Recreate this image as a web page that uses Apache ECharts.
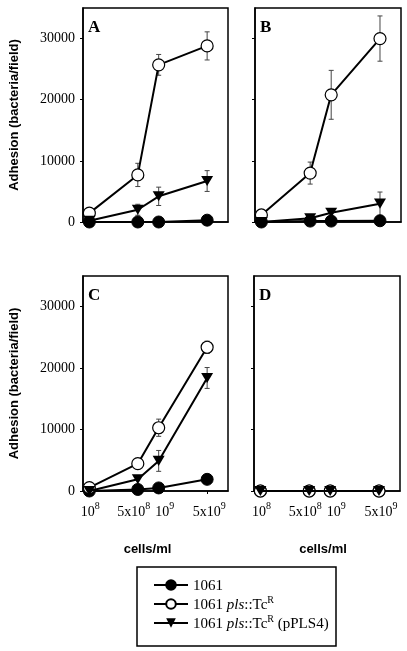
<!DOCTYPE html>
<html>
<head>
<meta charset="utf-8">
<script src="https://cdn.jsdelivr.net/npm/echarts@6/dist/echarts.min.js"></script>
<style>html,body{margin:0;padding:0;background:#fff;}#c{width:407px;height:651px;}</style>
</head>
<body>
<div id="c"></div>
<script>
// ---- data ----
const xVals = [1e8, 5e8, 1e9, 5e9];
const xTickBase = ['10', '5x10', '10', '5x10'];
const xTickExp = ['8', '8', '9', '9'];
const yTicks = [0, 10000, 20000, 30000];
const panelLetters = ['A', 'B', 'C', 'D'];
const seriesNames = ['1061', '1061 pls::TcR', '1061 pls::TcR (pPLS4)'];

const A_wt = [0, 0, 0, 300];
const A_pls = [1450, 7700, 25700, 28800];
const A_plsErr = [0, 1900, 1700, 2300];
const A_comp = [200, 2000, 4200, 6700];
const A_compErr = [0, 900, 1500, 1700];

const B_wt = [0, 150, 150, 200];
const B_pls = [1150, 8000, 20800, 30000];
const B_plsErr = [0, 1800, 4000, 3700];
const B_comp = [0, 600, 1500, 3000];
const B_compErr = [0, 0, 0, 1900];

const C_wt = [0, 250, 500, 1900];
const C_pls = [550, 4450, 10300, 23400];
const C_plsErr = [0, 0, 1400, 1000];
const C_comp = [0, 1900, 4900, 18400];
const C_compErr = [0, 0, 1700, 1700];

const D_wt = [0, 0, 0, 0];
const D_pls = [0, 0, 0, 0];
const D_plsErr = [0, 0, 0, 0];
const D_comp = [0, 0, 0, 0];
const D_compErr = [0, 0, 0, 0];

const panels = [
  {wt: A_wt, pls: A_pls, plsErr: A_plsErr, comp: A_comp, compErr: A_compErr},
  {wt: B_wt, pls: B_pls, plsErr: B_plsErr, comp: B_comp, compErr: B_compErr},
  {wt: C_wt, pls: C_pls, plsErr: C_plsErr, comp: C_comp, compErr: C_compErr},
  {wt: D_wt, pls: D_pls, plsErr: D_plsErr, comp: D_comp, compErr: D_compErr}
];

// ---- chart ----
const chart = echarts.init(document.getElementById('c'), null, {renderer: 'canvas'});
const serif = '"Liberation Serif", "Times New Roman", serif';
const sans = '"Liberation Sans", Arial, sans-serif';
const triPath = 'path://M0,0L12,0L6,11Z';
// horizontal nudge of each x tick label (px, + = right)
const labelNudge = [1, -4, 6, 2];

const grids = [
  {left: 83, top: 8, width: 145, height: 214},
  {left: 255, top: 8, width: 146, height: 214},
  {left: 83, top: 276, width: 145, height: 215},
  {left: 254, top: 276, width: 146, height: 215}
].map(g => Object.assign(g, {show: true, borderColor: '#000', borderWidth: 1.5, backgroundColor: 'transparent'}));

const richSup = {
  b: {fontFamily: serif, fontSize: 14, color: '#000', lineHeight: 18, verticalAlign: 'bottom'},
  s: {fontFamily: serif, fontSize: 10, color: '#000', lineHeight: 10, verticalAlign: 'top'}
};

const xAxes = grids.map((g, i) => ({
  type: 'log', logBase: 10, gridIndex: i, min: 8.1e7, max: 1e10,
  axisLine: {show: true, lineStyle: {color: '#000', width: 1.5}},
  axisTick: {show: true, customValues: xVals, length: 3, lineStyle: {color: '#000', width: 1}},
  splitLine: {show: false}, minorTick: {show: false},
  axisLabel: {
    show: i >= 2, customValues: xVals, margin: 10,
    formatter: function (v) {
      let k = xVals.findIndex(x => Math.abs(x - v) / x < 1e-6);
      if (k < 0) return '';
      const n = labelNudge[k];
      const txt = '{b|' + xTickBase[k] + '}{s|' + xTickExp[k] + '}';
      if (n > 0) return '{p' + (2 * n) + '|}' + txt;
      if (n < 0) return txt + '{p' + (-2 * n) + '|}';
      return txt;
    },
    rich: Object.assign({}, richSup, {
      p2: {width: 2}, p4: {width: 4}, p8: {width: 8}, p12: {width: 12}
    })
  },
  name: i >= 2 ? 'cells/ml' : '', nameLocation: 'middle', nameGap: 52,
  nameTextStyle: {fontFamily: sans, fontWeight: 'bold', fontSize: 13, color: '#000',
    padding: i === 2 ? [0, 16, 0, 0] : [0, 8, 0, 0]}
}));

const yAxes = grids.map((g, i) => ({
  type: 'value', gridIndex: i, min: 0, max: 35000,
  axisLine: {show: true, lineStyle: {color: '#000', width: 1.5}},
  axisTick: {show: true, customValues: yTicks, length: 3, lineStyle: {color: '#000', width: 1}},
  splitLine: {show: false},
  axisLabel: {show: i % 2 === 0, customValues: yTicks, fontFamily: serif, fontSize: 14, color: '#000', margin: 8,
    formatter: v => String(v)},
  name: i % 2 === 0 ? 'Adhesion (bacteria/field)' : '', nameLocation: 'middle', nameGap: 62,
  nameTextStyle: {fontFamily: sans, fontWeight: 'bold', fontSize: 13, color: '#000'}
}));

function pairs(arr) { return xVals.map((x, k) => [x, arr[k]]); }
function errData(vals, errs) {
  const out = [];
  xVals.forEach((x, k) => { if (errs[k] > 0) out.push([x, vals[k] - errs[k], vals[k] + errs[k]]); });
  return out;
}
function errRender(params, api) {
  const x = api.value(0), lo = api.value(1), hi = api.value(2);
  const p1 = api.coord([x, lo]), p2 = api.coord([x, hi]);
  const cw = 2.5;
  const style = {stroke: '#444', lineWidth: 1};
  return {type: 'group', children: [
    {type: 'line', shape: {x1: p1[0], y1: p1[1], x2: p2[0], y2: p2[1]}, style},
    {type: 'line', shape: {x1: p1[0] - cw, y1: p1[1], x2: p1[0] + cw, y2: p1[1]}, style},
    {type: 'line', shape: {x1: p2[0] - cw, y1: p2[1], x2: p2[0] + cw, y2: p2[1]}, style}
  ]};
}

const series = [];
panels.forEach((p, i) => {
  series.push({type: 'custom', xAxisIndex: i, yAxisIndex: i, renderItem: errRender, data: errData(p.pls, p.plsErr), z: 1, silent: true});
  series.push({type: 'custom', xAxisIndex: i, yAxisIndex: i, renderItem: errRender, data: errData(p.comp, p.compErr), z: 1, silent: true});
  series.push({name: seriesNames[0], type: 'line', xAxisIndex: i, yAxisIndex: i, data: pairs(p.wt), z: 2,
    symbol: 'circle', symbolSize: 12, lineStyle: {color: '#000', width: 2},
    itemStyle: {color: '#000', borderColor: '#000', borderWidth: 1}});
  series.push({name: seriesNames[1], type: 'line', xAxisIndex: i, yAxisIndex: i, data: pairs(p.pls), z: 3,
    symbol: 'circle', symbolSize: 12, lineStyle: {color: '#000', width: 2},
    itemStyle: {color: '#fff', borderColor: '#000', borderWidth: 1.2}});
  series.push({name: seriesNames[2], type: 'line', xAxisIndex: i, yAxisIndex: i, data: pairs(p.comp), z: 4,
    symbol: triPath, symbolSize: [12, 11], symbolKeepAspect: true, lineStyle: {color: '#000', width: 2},
    itemStyle: {color: '#000', borderColor: '#000', borderWidth: 0}});
});

const graphics = [
  {type: 'rect', shape: {x: 137, y: 567, width: 199, height: 79}, style: {fill: 'none', stroke: '#000', lineWidth: 1.5}, silent: true}
];
grids.forEach((g, i) => {
  graphics.push({type: 'text', left: g.left + 5, top: g.top + 11,
    style: {text: panelLetters[i], fontFamily: serif, fontWeight: 'bold', fontSize: 17, fill: '#000'}});
});

const option = {
  animation: false,
  backgroundColor: '#fff',
  grid: grids,
  xAxis: xAxes,
  yAxis: yAxes,
  series: series,
  graphic: graphics,
  legend: {
    orient: 'vertical', left: 148, top: 574, itemWidth: 34, itemHeight: 12, itemGap: 1,
    data: seriesNames, selectedMode: false,
    formatter: function (name) {
      if (name === seriesNames[0]) return '{b|1061}';
      if (name === seriesNames[1]) return '{b|1061 }{i|pls}{b|::Tc}{s|R}';
      return '{b|1061 }{i|pls}{b|::Tc}{s|R}{b| (pPLS4)}';
    },
    textStyle: {
      fontFamily: serif, fontSize: 15, color: '#000',
      rich: {
        b: {fontFamily: serif, fontSize: 15, color: '#000', lineHeight: 18, verticalAlign: 'bottom'},
        i: {fontFamily: serif, fontSize: 15, fontStyle: 'italic', color: '#000', lineHeight: 18, verticalAlign: 'bottom'},
        s: {fontFamily: serif, fontSize: 10, color: '#000', lineHeight: 10, verticalAlign: 'top'}
      }
    }
  }
};
chart.setOption(option);
</script>
</body>
</html>
